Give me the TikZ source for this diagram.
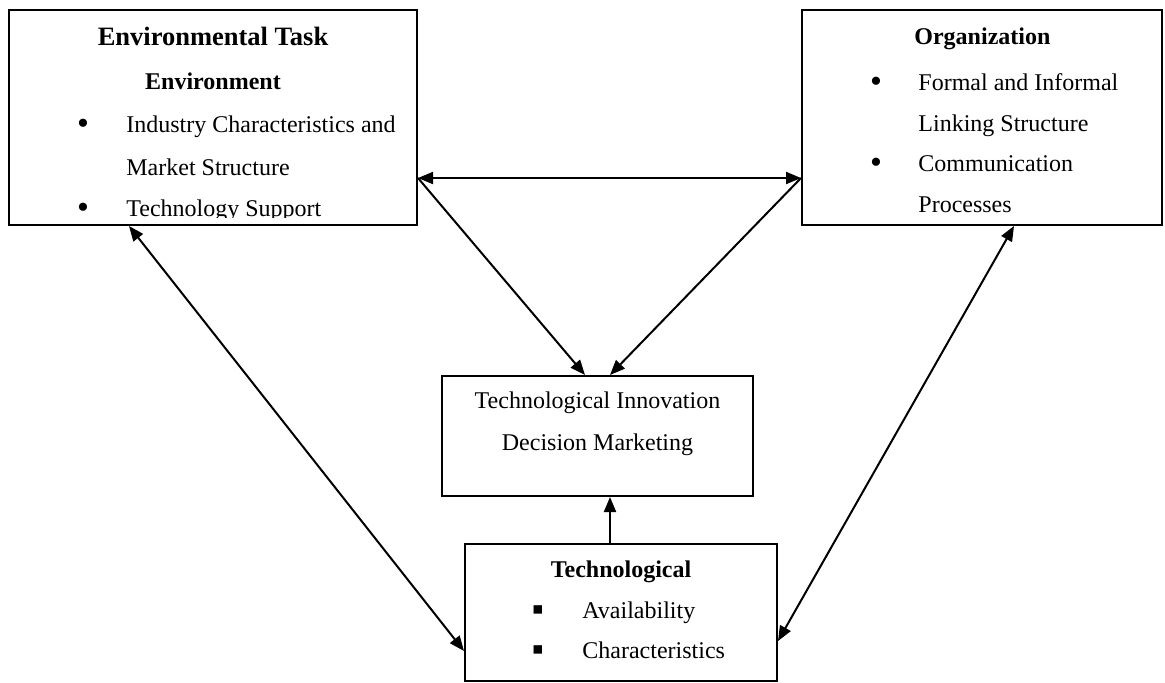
\documentclass[tikz,border=0pt]{standalone}
\usepackage{fontspec}
\setmainfont{Liberation Serif}
\usetikzlibrary{arrows.meta}
\newcommand\boxfont{\fontsize{12}{14}\selectfont}

\begin{document}
\begin{tikzpicture}[x=0.5pt,y=-0.5pt,
		box/.style={draw,line width=1pt,inner sep=0pt},
		txt/.style={anchor=base west,inner sep=0pt,font=\boxfont},
		ctr/.style={anchor=base,inner sep=0pt,font=\boxfont},
		blt/.style={anchor=base,inner sep=0pt,font=\fontsize{17}{17}\selectfont},
		link/.style={line width=1pt,>={Triangle[length=7.5pt,width=6pt]}}]
		\useasboundingbox (0,0) rectangle (1165,682);
		\node[box,minimum width=204pt,minimum height=107.5pt] (env) at (213,117.5) {};
		\node[box,minimum width=180pt,minimum height=107.5pt] (org) at (982,117.5) {};
		\node[box,minimum width=155.5pt,minimum height=60pt] (dec) at (597.5,436) {};
		\node[box,minimum width=156pt,minimum height=68.5pt] (tech) at (621,612.5) {};
		% environment box
		\node[ctr,font=\bfseries\fontsize{13.25}{16}\selectfont] (envT) at (213,45) {Environmental Task};
		\node[ctr,font=\bfseries\boxfont] (envS) at (213,89) {Environment};
		\node[blt] (envB1) at (83,134) {•};
		\node[txt] (envI1) at (126,132) {Industry Characteristics and};
		\node[txt] (envI2) at (126,175) {Market Structure};
		\begin{scope}
			\clip (env.north west) rectangle (417,217);
			\node[blt] (envB2) at (83,218) {•};
			\node[txt] (envI3) at (126,216) {Technology Support};
		\end{scope}
		% organization box
		\node[txt,font=\bfseries\boxfont] (orgT) at (914,44) {Organization};
		\node[blt] (orgB1) at (876,92) {•};
		\node[txt] (orgI1) at (918,90) {Formal and Informal};
		\node[txt] (orgI2) at (918,131) {Linking Structure};
		\node[blt] (orgB2) at (876,173) {•};
		\node[txt] (orgI3) at (918,171) {Communication};
		\node[txt] (orgI4) at (918,212) {Processes};
		% decision box
		\node[ctr] (decI1) at (597.5,408) {Technological Innovation};
		\node[ctr] (decI2) at (597.5,450) {Decision Marketing};
		% technological box
		\node[ctr,font=\bfseries\boxfont] (techT) at (621,577) {Technological};
		\node[blt] (techB1) at (538,620) {▪};
		\node[txt] (techI1) at (582,618) {Availability};
		\node[blt] (techB2) at (538,660) {▪};
		\node[txt] (techI2) at (582,658) {Characteristics};
		% links
		\draw[link,<->] ([yshift=24pt]env.south east) -- ([yshift=24pt]org.south west);
		\draw[link,->] ([yshift=24pt]env.south east) -- ([xshift=-6.25pt]dec.north);
		\draw[link,->] ([yshift=24pt]org.south west) -- ([xshift=6.25pt]dec.north);
		\draw[link,<->] ([xshift=60.5pt]env.south west) -- ([yshift=15.5pt]tech.south west);
		\draw[link,<->] ([xshift=106.5pt]org.south west) -- ([yshift=20.5pt]tech.south east);
		\draw[link,->] ([xshift=-5.5pt]tech.north) -- ([xshift=-5.5pt]tech.north |- dec.south);
	\end{tikzpicture}
\end{document}
